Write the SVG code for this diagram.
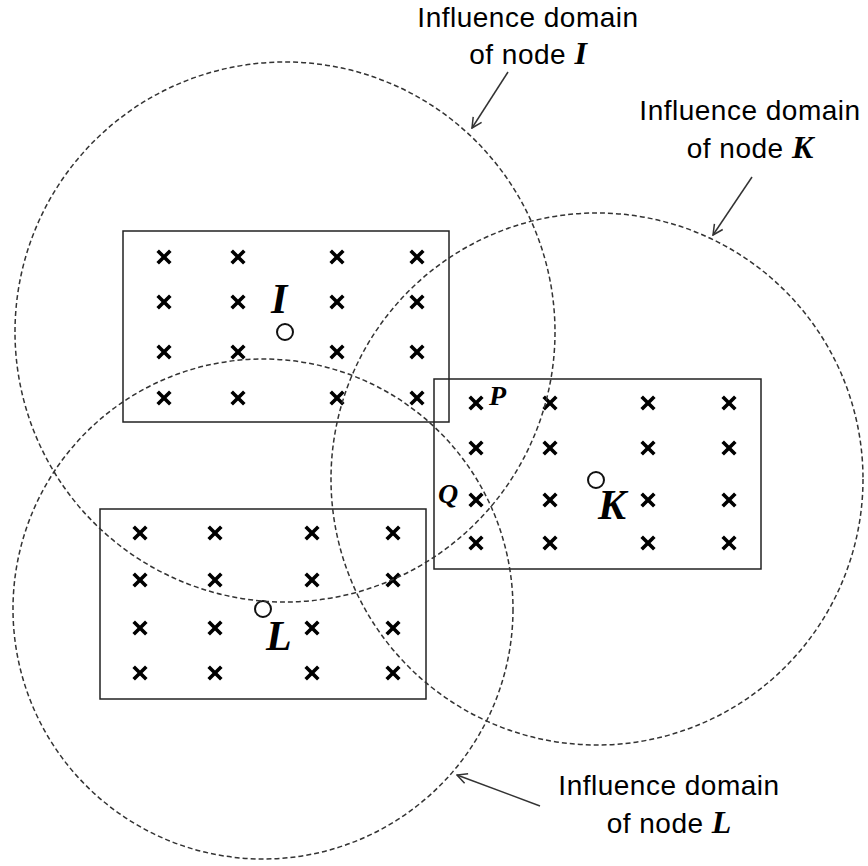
<svg xmlns="http://www.w3.org/2000/svg" width="868" height="866" viewBox="0 0 868 866">
<style>
.box{fill:none;stroke:#222;stroke-width:1.5}
.dom{fill:none;stroke:#333;stroke-width:1.5;stroke-dasharray:5 3}
.nd{fill:#fff;stroke:#111;stroke-width:2}
.cr{stroke:#000;stroke-width:3.6;fill:none}
.lbl{font-family:"Liberation Sans",Arial,sans-serif;font-size:28px;letter-spacing:0.5px;fill:#000;text-anchor:middle}
.var{font-family:"Liberation Serif","Times New Roman",serif;font-style:italic;font-weight:bold;fill:#000;letter-spacing:0}
.arr{stroke:#333;stroke-width:1.5;fill:none;marker-end:url(#ah)}
</style>
<defs>
<path id="x" class="cr" d="M-6.3,-6.3L6.3,6.3M-6.3,6.3L6.3,-6.3"/>
<marker id="ah" viewBox="0 0 12 12" refX="11" refY="6" markerWidth="12" markerHeight="12" markerUnits="userSpaceOnUse" orient="auto">
<path d="M1,1L11,6L1,11" fill="none" stroke="#333" stroke-width="1.5"/>
</marker>
</defs>
<rect width="868" height="866" fill="#fff"/>

<g id="nodeI">
<rect class="box" x="123" y="231" width="326" height="191"/>
<use href="#x" x="164" y="257"/><use href="#x" x="238" y="257"/><use href="#x" x="337" y="257"/><use href="#x" x="417" y="257"/>
<use href="#x" x="164" y="302"/><use href="#x" x="238" y="302"/><use href="#x" x="337" y="302"/><use href="#x" x="417" y="302"/>
<use href="#x" x="164" y="352"/><use href="#x" x="238" y="352"/><use href="#x" x="337" y="352"/><use href="#x" x="417" y="352"/>
<use href="#x" x="164" y="398"/><use href="#x" x="238" y="398"/><use href="#x" x="337" y="398"/><use href="#x" x="417" y="398"/>
<circle class="nd" cx="285" cy="332" r="8"/>
<text class="var" x="271" y="313" font-size="42">I</text>
</g>

<g id="nodeK">
<rect class="box" x="434" y="379" width="327" height="190"/>
<use href="#x" x="476" y="403"/><use href="#x" x="550" y="403"/><use href="#x" x="648" y="403"/><use href="#x" x="729" y="403"/>
<use href="#x" x="476" y="448"/><use href="#x" x="550" y="448"/><use href="#x" x="648" y="448"/><use href="#x" x="729" y="448"/>
<use href="#x" x="476" y="500"/><use href="#x" x="550" y="500"/><use href="#x" x="648" y="500"/><use href="#x" x="729" y="500"/>
<use href="#x" x="476" y="543"/><use href="#x" x="550" y="543"/><use href="#x" x="648" y="543"/><use href="#x" x="729" y="543"/>
<circle class="nd" cx="596" cy="480" r="8"/>
<text class="var" x="598" y="519" font-size="42">K</text>
<text class="var" x="489" y="405" font-size="28">P</text>
<text class="var" x="438" y="503" font-size="28">Q</text>
</g>

<g id="nodeL">
<rect class="box" x="100" y="509" width="326" height="190"/>
<use href="#x" x="140" y="533"/><use href="#x" x="215" y="533"/><use href="#x" x="312" y="533"/><use href="#x" x="393" y="533"/>
<use href="#x" x="140" y="580"/><use href="#x" x="215" y="580"/><use href="#x" x="312" y="580"/><use href="#x" x="393" y="580"/>
<use href="#x" x="140" y="628"/><use href="#x" x="215" y="628"/><use href="#x" x="312" y="628"/><use href="#x" x="393" y="628"/>
<use href="#x" x="140" y="673"/><use href="#x" x="215" y="673"/><use href="#x" x="312" y="673"/><use href="#x" x="393" y="673"/>
<circle class="nd" cx="263" cy="609" r="8"/>
<text class="var" x="266" y="650" font-size="42">L</text>
</g>

<g id="domains">
<circle class="dom" cx="285" cy="332" r="270"/>
<circle class="dom" cx="597" cy="479" r="266"/>
<circle class="dom" cx="263" cy="609" r="250"/>
</g>

<g id="labelI">
<text class="lbl" x="528" y="27">Influence domain</text>
<text class="lbl" x="528" y="64">of node <tspan class="var" font-size="32">I</tspan></text>
</g>
<g id="labelK">
<text class="lbl" x="750" y="120">Influence domain</text>
<text class="lbl" x="750" y="158">of node <tspan class="var" font-size="32">K</tspan></text>
</g>
<g id="labelL">
<text class="lbl" x="669" y="795">Influence domain</text>
<text class="lbl" x="669" y="833">of node <tspan class="var" font-size="32">L</tspan></text>
</g>

<g id="connectors">
<line class="arr" x1="508" y1="72" x2="472" y2="128"/>
<line class="arr" x1="752" y1="177" x2="713" y2="235"/>
<line class="arr" x1="540" y1="806" x2="457" y2="775"/>
</g>
</svg>
